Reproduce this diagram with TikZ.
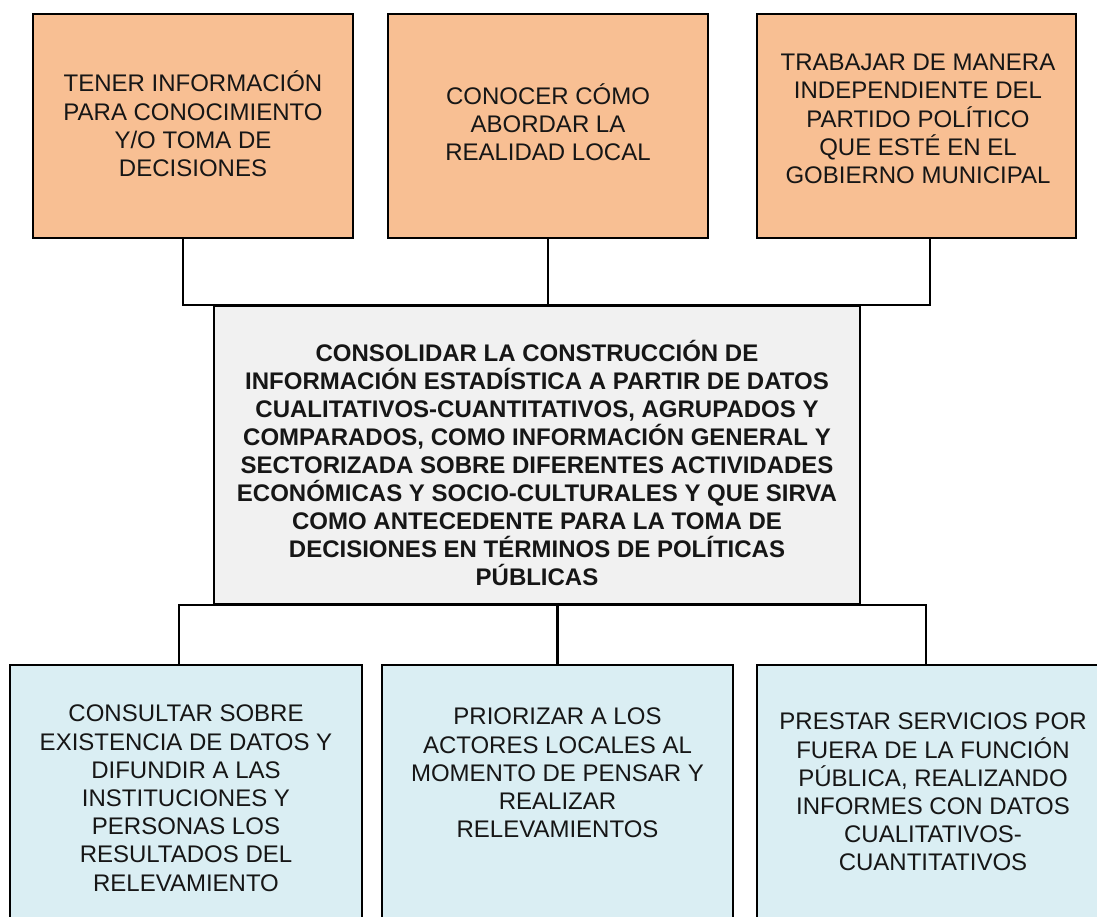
\documentclass[tikz,border=0pt]{standalone}
\usepackage{fontspec}
\setmainfont{Liberation Sans}
\definecolor{orangefill}{HTML}{F8BF93}
\definecolor{midfill}{HTML}{F1F1F1}
\definecolor{bluefill}{HTML}{DAEEF3}
\definecolor{ink}{HTML}{161616}
\begin{document}
\begin{tikzpicture}[x=1pt,y=-1pt,
  box/.style={draw=black, line width=2.8pt, rectangle, inner sep=0pt},
  topbox/.style={box, fill=orangefill, minimum height=224pt},
  midbox/.style={box, fill=midfill},
  botbox/.style={box, fill=bluefill, minimum height=280pt},
  txt/.style={align=center, inner sep=0pt, text=ink, font=\fontsize{24}{28.2}\selectfont},
  midtxt/.style={align=center, inner sep=0pt, text=ink, font=\fontsize{24}{27.9}\selectfont\bfseries},
  conn/.style={draw=black, line width=2.8pt, line join=miter}]
\useasboundingbox (0,0) rectangle (1097,916);
\clip (0,0) rectangle (1097,916);
\fill[white] (0,0) rectangle (1097,916);

% top boxes
\node[topbox, minimum width=320pt] (t1) at (193,126) {};
\node[topbox, minimum width=320pt] (t2) at (548,126) {};
\node[topbox, minimum width=319pt] (t3) at (916.5,126) {};
\node[txt] (t1txt) at (193,124) {TENER INFORMACIÓN\\PARA CONOCIMIENTO\\Y/O TOMA DE\\DECISIONES};
\node[txt] (t2txt) at (548,122) {CONOCER CÓMO\\ABORDAR LA\\REALIDAD LOCAL};
\node[txt] (t3txt) at (918,119) {TRABAJAR DE MANERA\\INDEPENDIENTE DEL\\PARTIDO POLÍTICO\\QUE ESTÉ EN EL\\GOBIERNO MUNICIPAL};

% middle box
\node[midbox, minimum width=646pt, minimum height=298pt] (m) at (537,455) {};
\node[midtxt] (mtxt) at (537,463) {CONSOLIDAR LA CONSTRUCCIÓN DE\\INFORMACIÓN ESTADÍSTICA A PARTIR DE DATOS\\CUALITATIVOS-CUANTITATIVOS, AGRUPADOS Y\\COMPARADOS, COMO INFORMACIÓN GENERAL Y\\SECTORIZADA SOBRE DIFERENTES ACTIVIDADES\\ECONÓMICAS Y SOCIO-CULTURALES Y QUE SIRVA\\COMO ANTECEDENTE PARA LA TOMA DE\\DECISIONES EN TÉRMINOS DE POLÍTICAS\\PÚBLICAS};

% bottom boxes
\node[botbox, minimum width=352pt] (b1) at (186,805) {};
\node[botbox, minimum width=351pt] (b2) at (557.5,805) {};
\node[botbox, minimum width=360pt] (b3) at (937,805) {};
\node[txt, anchor=north] (b1txt) at (186,705) {CONSULTAR SOBRE\\EXISTENCIA DE DATOS Y\\DIFUNDIR A LAS\\INSTITUCIONES Y\\PERSONAS LOS\\RESULTADOS DEL\\RELEVAMIENTO};
\node[txt, anchor=north] (b2txt) at (557.5,708) {PRIORIZAR A LOS\\ACTORES LOCALES AL\\MOMENTO DE PENSAR Y\\REALIZAR\\RELEVAMIENTOS};
\node[txt, anchor=north] (b3txt) at (933,713) {PRESTAR SERVICIOS POR\\FUERA DE LA FUNCIÓN\\PÚBLICA, REALIZANDO\\INFORMES CON DATOS\\CUALITATIVOS-\\CUANTITATIVOS};

% top connectors
\coordinate (jl) at (183,305);
\coordinate (jr) at (930,305);
\draw[conn] (t1.south -| jl) -- (jl) -- (jr) -- (t3.south -| jr);
\draw[conn] (t2.south) -- (t2.south |- jl);

% bottom connectors
\coordinate (kl) at (179,605);
\coordinate (kr) at (926,605);
\draw[conn] (b1.north -| kl) -- (kl) -- (kr) -- (b3.north -| kr);
\draw[conn] (b2.north) -- (b2.north |- kl);
\end{tikzpicture}
\end{document}
